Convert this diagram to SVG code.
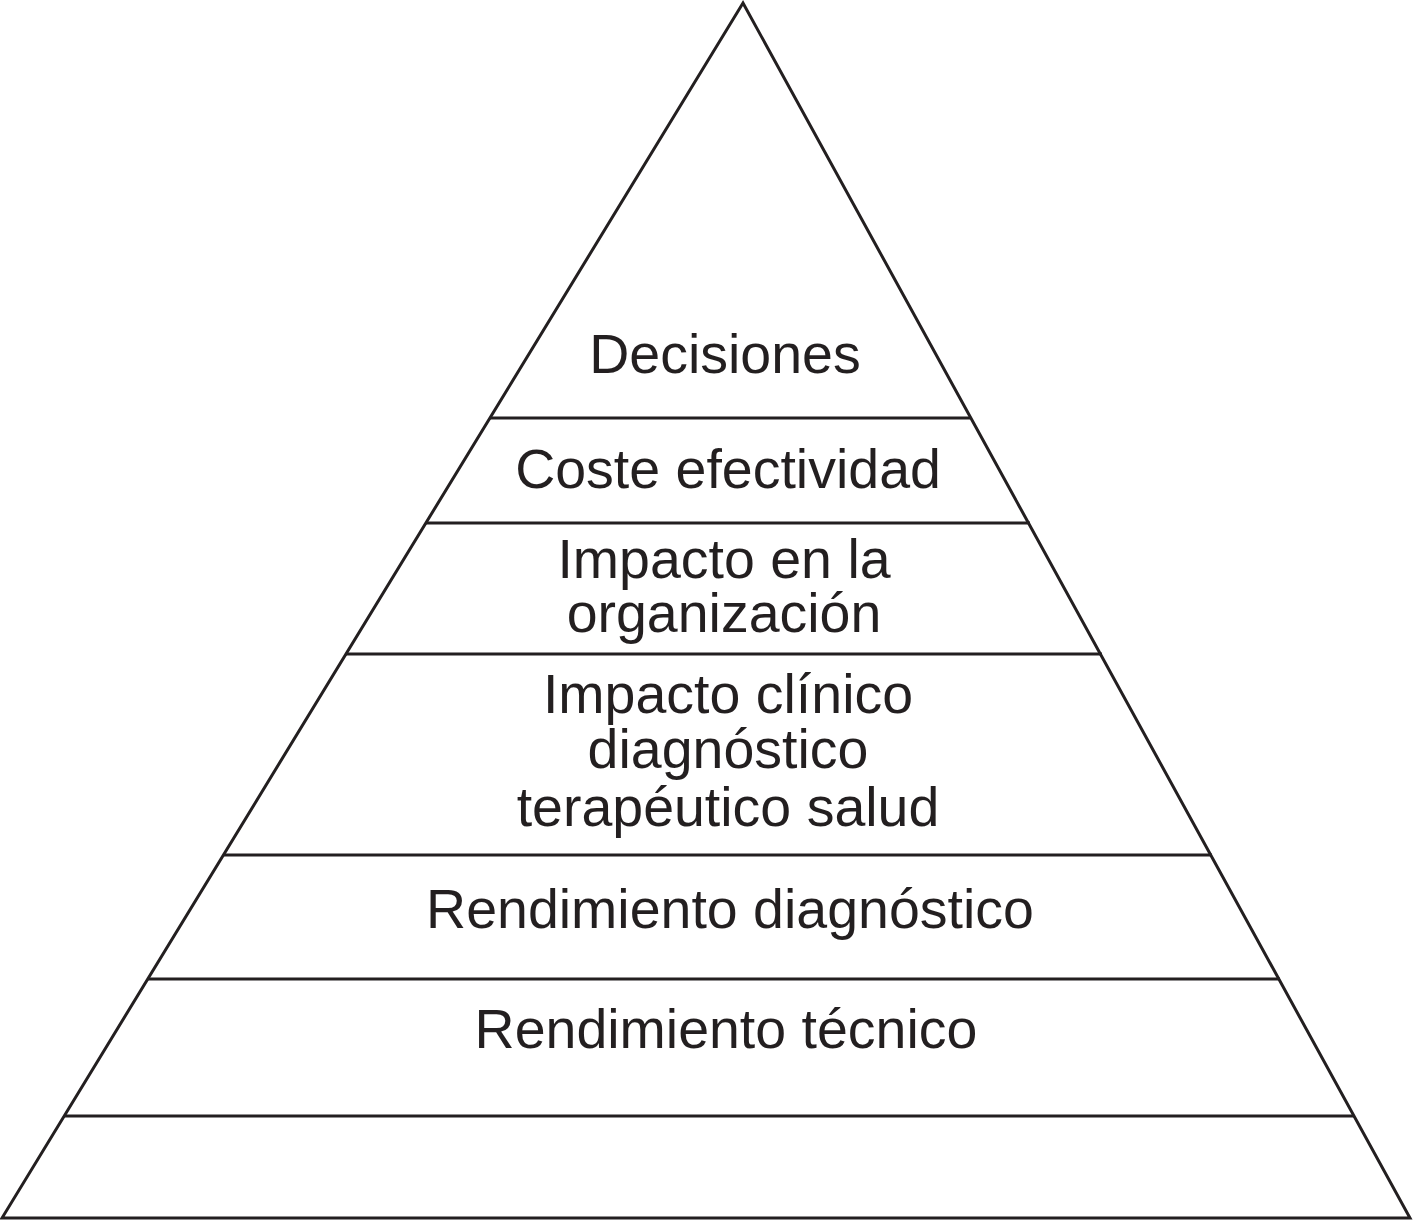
<svg xmlns="http://www.w3.org/2000/svg" width="1413" height="1221" viewBox="0 0 1413 1221">
<style>
.ln{stroke:#231f20;stroke-width:3;fill:none;stroke-linejoin:miter}
.t{font-family:"Liberation Sans",Arial,sans-serif;font-size:55.5px;fill:#231f20;text-anchor:middle}
</style>
<rect width="1413" height="1221" fill="#fff"/>
<g id="pyramid">
<polygon class="ln" points="743,3 2,1218 1410,1218"/>
</g>
<g id="connectors">
<line class="ln" x1="490" y1="418" x2="970" y2="418"/>
<line class="ln" x1="426" y1="523" x2="1030" y2="523"/>
<line class="ln" x1="346" y1="654" x2="1102" y2="654"/>
<line class="ln" x1="224" y1="855" x2="1212" y2="855"/>
<line class="ln" x1="148" y1="979" x2="1280" y2="979"/>
<line class="ln" x1="64" y1="1116" x2="1354" y2="1116"/>
</g>
<g id="n1"><text class="t" x="725" y="373">Decisiones</text></g>
<g id="n2"><text class="t" x="728" y="488">Coste efectividad</text></g>
<g id="n3"><text class="t" x="724" y="578">Impacto en la</text><text class="t" x="724" y="632">organización</text></g>
<g id="n4"><text class="t" x="728" y="713">Impacto clínico</text><text class="t" x="728" y="768">diagnóstico</text><text class="t" x="728" y="826">terapéutico salud</text></g>
<g id="n5"><text class="t" x="730" y="928">Rendimiento diagnóstico</text></g>
<g id="n6"><text class="t" x="726" y="1048">Rendimiento técnico</text></g>
</svg>
